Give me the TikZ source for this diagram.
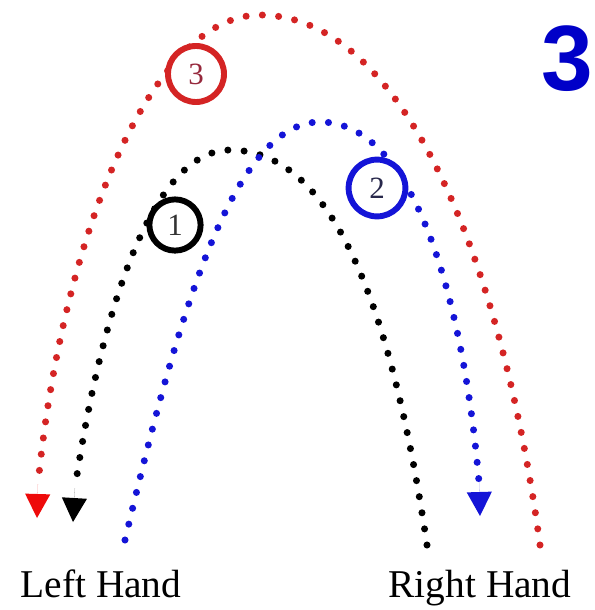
\documentclass[tikz,border=0pt]{standalone}
\usepackage{fontspec}
\setmainfont{Liberation Serif}
\newfontfamily\numfont{Liberation Sans}
\usetikzlibrary{arrows.meta}

\definecolor{trred}{RGB}{212,36,36}
\definecolor{tipred}{RGB}{238,10,10}
\definecolor{trblue}{RGB}{20,20,215}
\definecolor{bigblue}{RGB}{0,0,200}
\definecolor{numred}{RGB}{150,40,60}
\definecolor{numblue}{RGB}{40,40,75}

\begin{document}
\begin{tikzpicture}[
  x=0.025cm,y=-0.025cm,
  dots/.style={line width=5pt,line cap=round,
               dash pattern=on 0pt off 11.6pt},
  ar/.style={-{Triangle[length=6mm,width=6.3mm,line width=0pt]},line width=0.01pt},
  ring/.style={circle,draw,fill=white,line width=4.2pt,minimum size=1.4cm,
               inner sep=0pt,font=\fontsize{22}{22}\selectfont},
  hand/.style={anchor=base,font=\fontsize{28}{28}\selectfont}]

\useasboundingbox (0,0) rectangle (594,610);

% throw paths
\coordinate (bS) at (427,545);
\coordinate (bP) at (230,150);
\coordinate (bE) at (75,488);
\coordinate (bT) at (73,522);
\coordinate (uS) at (125,540);
\coordinate (uP) at (320,122);
\coordinate (uE) at (479,482);
\coordinate (uT) at (480,516);
\coordinate (rS) at (540,545);
\coordinate (rP) at (260,15);
\coordinate (rE) at (38,484);
\coordinate (rT) at (37,518);

\draw[dots,trred] (rS) .. controls (500,250) and (400,15) .. (rP)
  .. controls (150,15) and (62,240) .. (rE);
\draw[ar,tipred] (rE) -- (rT);

\draw[dots,black] (bS) .. controls (395,330) and (340,150) .. (bP)
  .. controls (150,150) and (100,320) .. (bE);
\draw[ar,black] (bE) -- (bT);

\draw[dots,trblue] (uS) .. controls (175,330) and (230,122) .. (uP)
  .. controls (420,122) and (465,320) .. (uE);
\draw[ar,trblue] (uE) -- (uT);

% throw numbers
\node[ring,draw=trred,text=numred] (n3) at (196,74) {3};
\node[ring,draw=black,minimum size=1.28cm,text=black!80] (n1) at (175,225) {1};
\node[ring,draw=trblue,minimum size=1.42cm,text=numblue] (n2) at (377,188) {2};

\node[hand] (lh) at (101,597) {Left Hand};
\node[hand] (rh) at (480,597) {Right Hand};
\node[font=\numfont\bfseries\fontsize{66}{66}\selectfont,text=bigblue] (big) at (567,59) {3};
\end{tikzpicture}
\end{document}
